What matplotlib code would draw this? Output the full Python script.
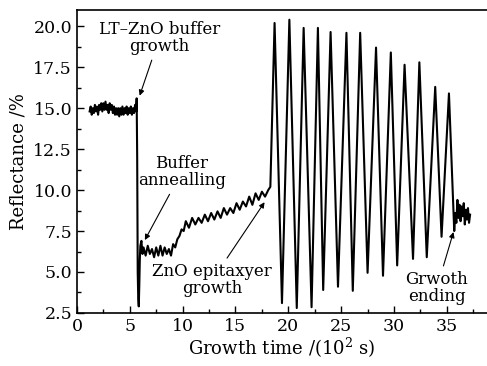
import matplotlib
matplotlib.use("Agg")
import matplotlib.pyplot as plt
from matplotlib.ticker import MultipleLocator, FormatStrFormatter

# plateau before buffer growth (10^2 s, %)
t_start = [1.2, 1.3, 1.4, 1.5, 1.6, 1.7, 1.8, 1.9, 2.0, 2.1, 2.2, 2.3, 2.4, 2.5,
           2.6, 2.7, 2.8, 2.9, 3.0, 3.1, 3.2, 3.3, 3.4, 3.5, 3.6, 3.7, 3.8, 3.9,
           4.0, 4.1, 4.2, 4.3, 4.4, 4.5, 4.6, 4.7, 4.8, 4.9, 5.0, 5.1, 5.2, 5.3,
           5.4, 5.5, 5.6, 5.65]
r_start = [14.8, 15.1, 14.6, 15.0, 14.7, 15.2, 14.8, 15.1, 14.6, 15.2, 14.9, 15.3,
           14.8, 15.3, 14.9, 15.4, 14.9, 15.2, 14.7, 15.3, 14.9, 15.2, 14.7, 15.1,
           14.6, 15.0, 14.6, 15.0, 14.5, 15.0, 14.6, 15.1, 14.6, 15.0, 14.7, 15.1,
           14.6, 15.0, 14.7, 15.1, 14.6, 15.0, 14.7, 15.2, 14.8, 15.6]

# LT buffer growth dip and annealing
t_anneal = [5.7, 5.75, 5.8, 5.85, 5.9, 5.95, 6.0, 6.1, 6.2, 6.3, 6.5, 6.7, 6.9,
            7.1, 7.3, 7.5, 7.7, 7.9, 8.1, 8.3, 8.5, 8.7, 8.9, 9.1, 9.3, 9.5,
            9.7, 9.9, 10.1, 10.3, 10.6, 10.9, 11.2, 11.5, 11.8, 12.1, 12.4,
            12.7, 13.0, 13.3, 13.6, 13.9, 14.2, 14.5, 14.8, 15.1, 15.4, 15.7,
            16.0, 16.3, 16.6, 16.9, 17.2, 17.5, 17.8, 18.1, 18.3]
r_anneal = [12.0, 5.0, 3.4, 2.9, 4.2, 5.8, 6.6, 6.9, 6.1, 6.5, 6.0, 6.6, 6.1,
            6.4, 5.9, 6.5, 6.0, 6.6, 6.0, 6.5, 6.1, 6.4, 6.0, 6.7, 6.5, 7.0,
            7.2, 7.6, 7.5, 8.1, 7.7, 8.3, 7.9, 8.3, 8.0, 8.5, 8.1, 8.6, 8.2,
            8.7, 8.3, 8.9, 8.5, 8.9, 8.6, 9.2, 8.8, 9.3, 9.0, 9.6, 9.1, 9.8,
            9.4, 9.9, 9.6, 10.0, 10.2]

# RHEED-like oscillations during ZnO epitaxy
t_osc = [18.7, 19.4, 20.1, 20.8, 21.45, 22.2, 22.8, 23.3, 24.0, 24.7, 25.5,
         26.1, 26.8, 27.5, 28.3, 28.96, 29.7, 30.3, 31.0, 31.8, 32.4, 33.1,
         33.9, 34.5, 35.2]
r_osc = [20.2, 3.1, 20.4, 2.8, 19.9, 2.85, 19.9, 3.9, 19.65, 4.1, 19.6,
         3.85, 19.6, 4.95, 18.7, 4.77, 18.4, 5.4, 17.65, 5.8, 17.8, 5.9,
         16.3, 7.15, 15.9]

# growth ending
t_end = [35.7, 35.8, 35.9, 36.0, 36.1, 36.2, 36.3, 36.4, 36.5, 36.6, 36.7,
         36.8, 36.9, 37.0, 37.1, 37.2]
r_end = [7.5, 8.6, 8.0, 9.4, 8.3, 9.1, 8.1, 9.0, 8.4, 9.2, 7.9, 8.8, 8.2,
         8.9, 8.0, 8.5]

time = t_start + t_anneal + t_osc + t_end
refl = r_start + r_anneal + r_osc + r_end

plt.rcParams['font.family'] = ['DejaVu Serif']
plt.rcParams['mathtext.fontset'] = 'dejavuserif'

fig = plt.figure(figsize=(4.87, 3.66), dpi=100)
ax = fig.add_axes([0.158, 0.145, 0.842, 0.828])

ax.plot(time, refl, color='black', lw=1.5)

ax.set_xlim(0, 38.8)
ax.set_ylim(2.5, 21.0)
ax.xaxis.set_major_locator(MultipleLocator(5))
ax.xaxis.set_minor_locator(MultipleLocator(2.5))
ax.yaxis.set_major_locator(MultipleLocator(2.5))
ax.yaxis.set_minor_locator(MultipleLocator(1.25))
ax.yaxis.set_major_formatter(FormatStrFormatter('%.1f'))
ax.tick_params(which='both', direction='in', labelsize=12.5)
ax.tick_params(which='major', length=5, width=1)
ax.tick_params(which='minor', length=3, width=1)
for s in ax.spines.values():
    s.set_linewidth(1.2)
ax.spines['right'].set_visible(False)

ax.set_xlabel('Growth time /(10$^2$ s)', fontsize=13, labelpad=1)
ax.set_ylabel('Reflectance /%', fontsize=13, labelpad=4)

arrow = dict(arrowstyle='-|>', color='black', lw=0.8, mutation_scale=8)
fs = 12
ax.annotate('LT–ZnO buffer\ngrowth', xy=(5.85, 15.6), xytext=(7.8, 19.3),
            ha='center', va='center', fontsize=fs, linespacing=1.0,
            arrowprops=dict(arrow, shrinkA=2))
ax.annotate('Buffer\nannealling', xy=(6.3, 6.8), xytext=(9.9, 11.1),
            ha='center', va='center', fontsize=fs, linespacing=1.0,
            arrowprops=dict(arrow, shrinkA=2))
ax.annotate('ZnO epitaxyer\ngrowth', xy=(17.9, 9.4), xytext=(12.8, 4.5),
            ha='center', va='center', fontsize=fs, linespacing=1.0,
            arrowprops=dict(arrow, shrinkA=2))
ax.annotate('Grwoth\nending', xy=(35.7, 7.6), xytext=(34.05, 4.0),
            ha='center', va='center', fontsize=fs, linespacing=1.0,
            arrowprops=dict(arrow, shrinkA=2))

fig.savefig('out.png', dpi=100)
